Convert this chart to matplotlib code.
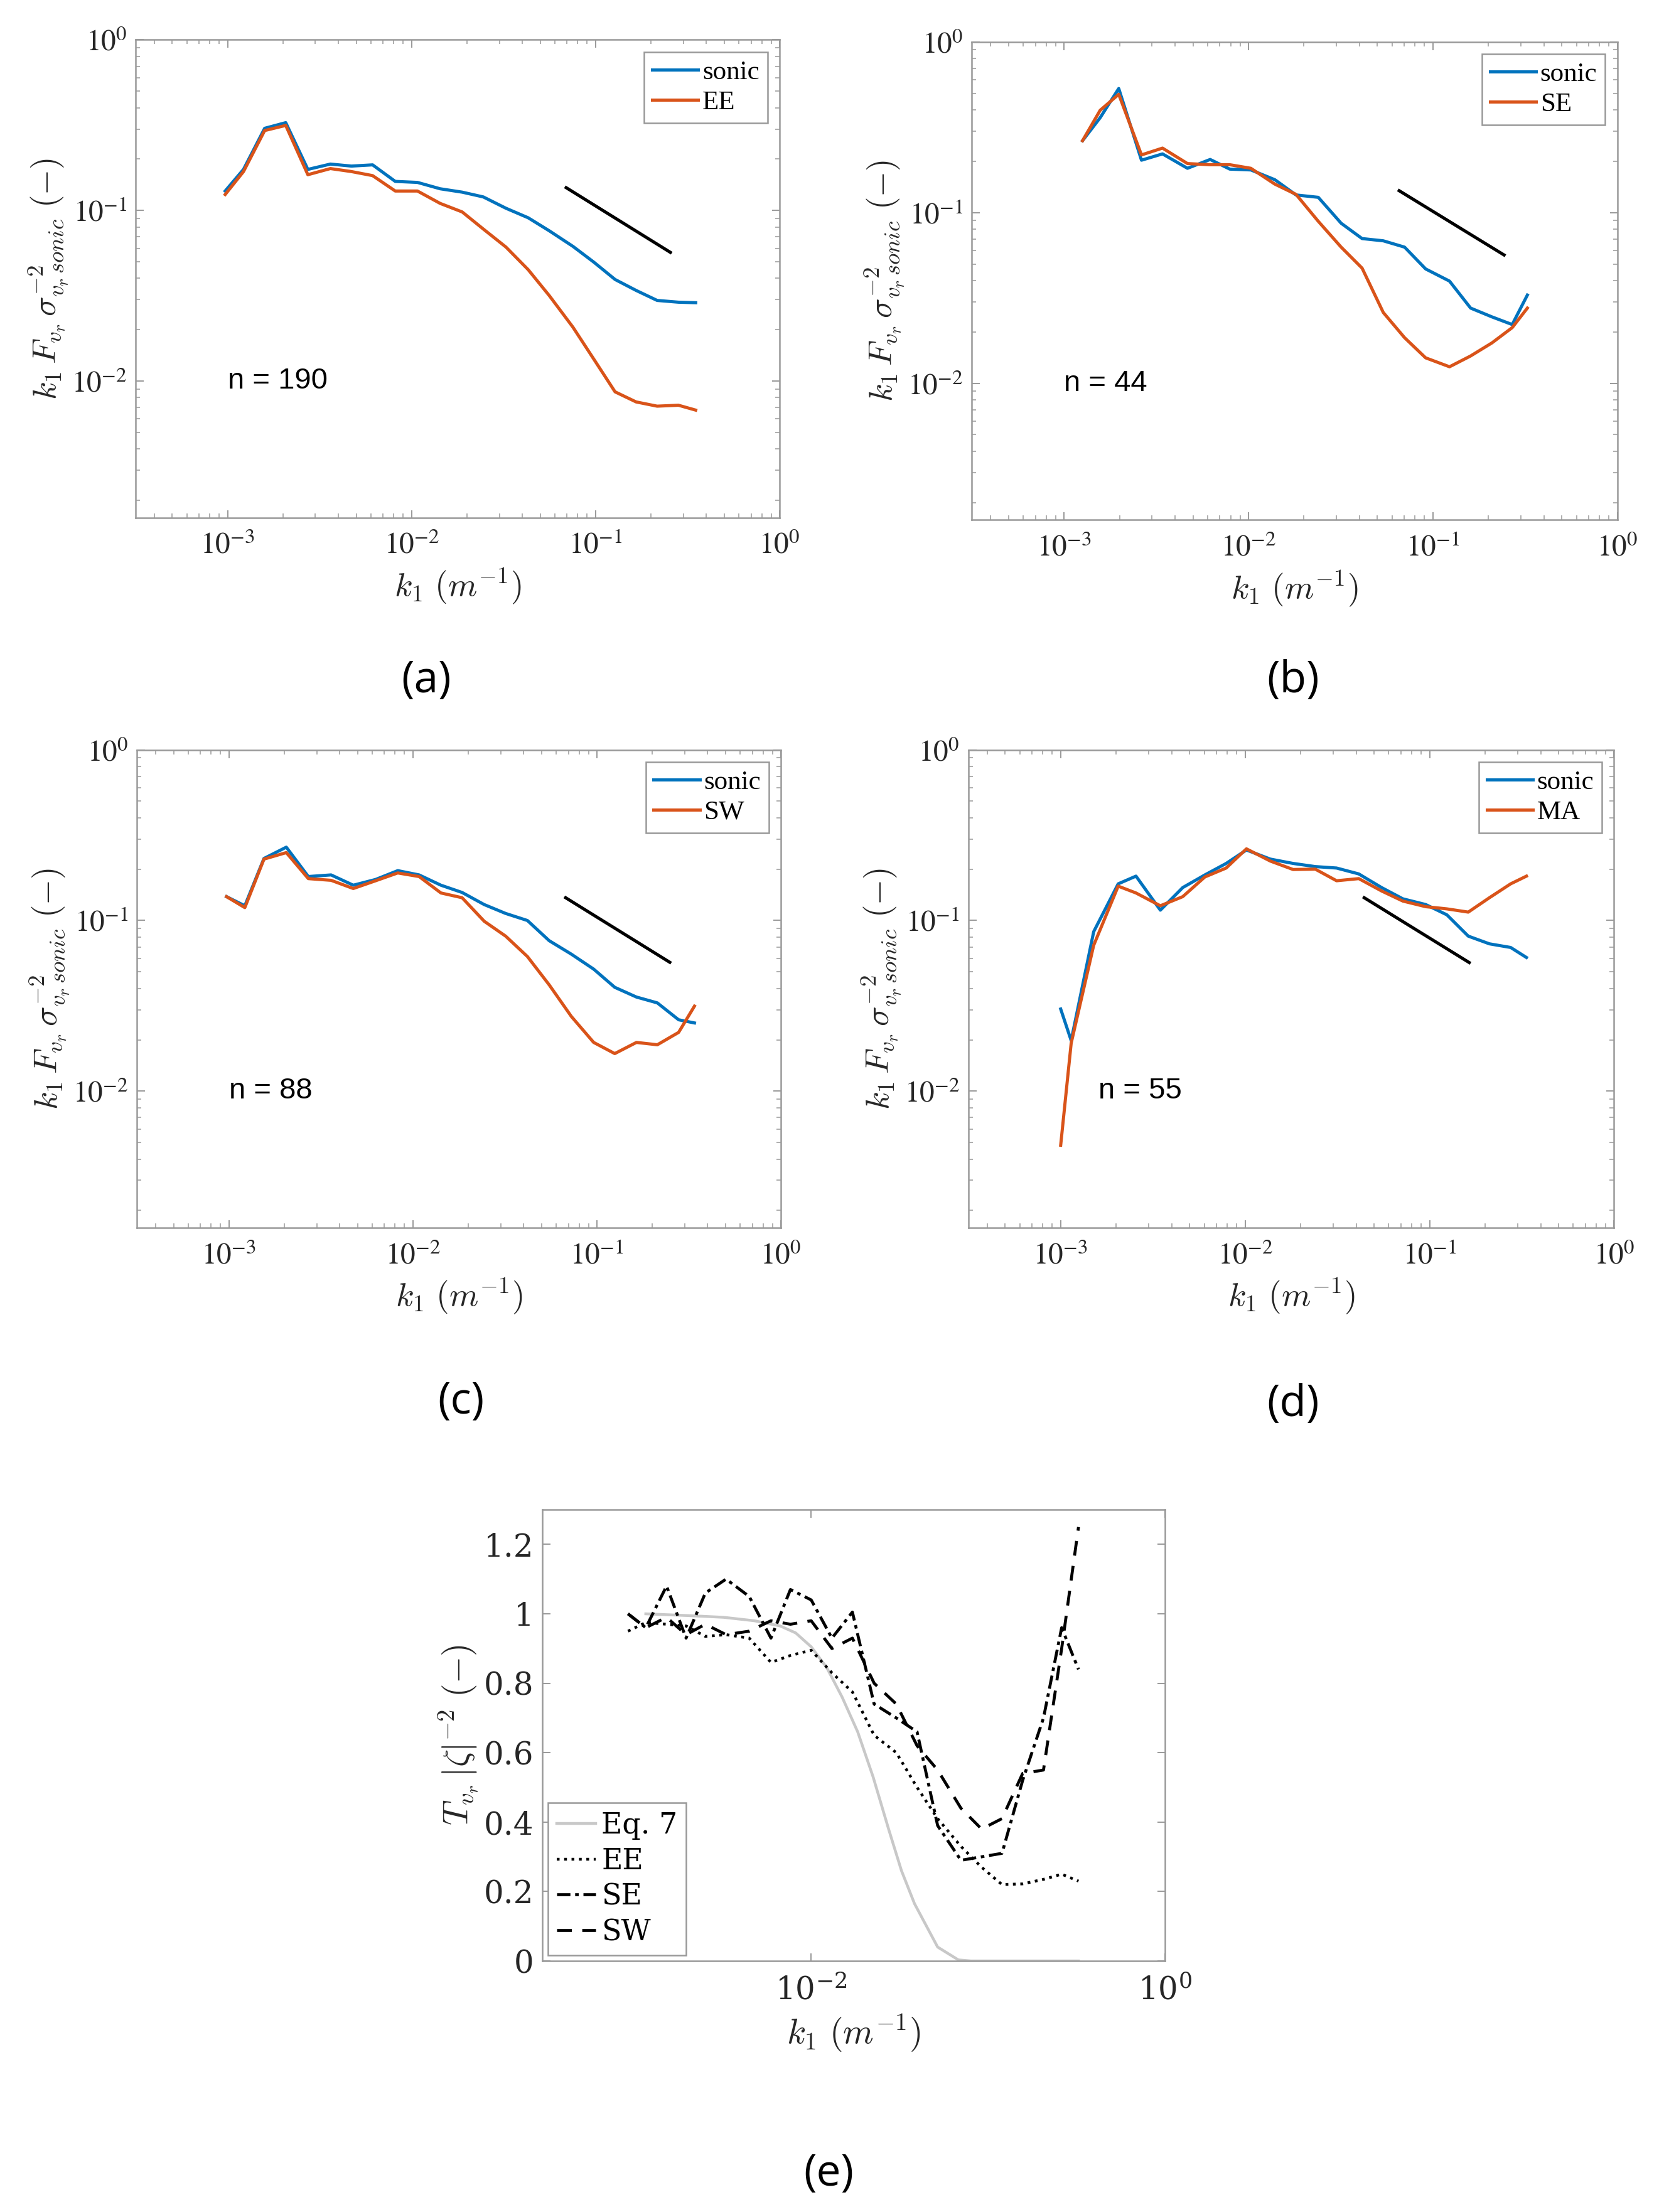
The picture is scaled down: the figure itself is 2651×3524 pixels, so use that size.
import numpy as np
import matplotlib.pyplot as plt
from matplotlib.ticker import NullFormatter, LogLocator, NullLocator

plt.rcParams['mathtext.fontset'] = 'cm'

# ---- panel (a): sonic vs EE ----
k1_a = [0.00097, 0.00122, 0.00159, 0.00207, 0.00273, 0.00362, 0.00471, 0.00614,
        0.00815, 0.01076, 0.01429, 0.01884, 0.02454, 0.03258, 0.0430, 0.0560,
        0.0753, 0.098, 0.1276, 0.166, 0.216, 0.282, 0.350]
sonic_a = [0.130, 0.174, 0.303, 0.327, 0.174, 0.187, 0.182, 0.185, 0.148, 0.146,
           0.134, 0.128, 0.120, 0.103, 0.0906, 0.076, 0.0616, 0.0497, 0.0394,
           0.034, 0.0297, 0.029, 0.0288]
ee_a = [0.124, 0.169, 0.294, 0.315, 0.162, 0.176, 0.169, 0.160, 0.130, 0.130,
        0.110, 0.098, 0.0778, 0.061, 0.045, 0.0317, 0.0207, 0.0134, 0.00865,
        0.00755, 0.00713, 0.00722, 0.00676]

# ---- panel (b): sonic vs SE ----
k1_b = [0.00126, 0.00157, 0.00198, 0.00263, 0.00342, 0.00467, 0.00620, 0.00792,
        0.0103, 0.0139, 0.0181, 0.0239, 0.0318, 0.0413, 0.0538, 0.0702, 0.0913,
        0.123, 0.160, 0.209, 0.269, 0.325]
sonic_b = [0.264, 0.360, 0.534, 0.203, 0.221, 0.182, 0.205, 0.180, 0.178, 0.156,
           0.127, 0.123, 0.0867, 0.0705, 0.0684, 0.0628, 0.0468, 0.0397, 0.0276,
           0.0245, 0.0221, 0.0329]
se_b = [0.264, 0.398, 0.494, 0.218, 0.239, 0.194, 0.191, 0.191, 0.182, 0.147,
        0.128, 0.089, 0.0628, 0.0473, 0.026, 0.0185, 0.0141, 0.0125, 0.01446,
        0.01726, 0.0212, 0.0276]

# ---- panel (c): sonic vs SW ----
k1_c = [0.00097, 0.00122, 0.00155, 0.00205, 0.00270, 0.00359, 0.00474, 0.00627,
        0.00827, 0.0108, 0.0142, 0.0185, 0.0244, 0.0319, 0.0419, 0.0550, 0.0726,
        0.0960, 0.125, 0.164, 0.213, 0.278, 0.339]
sonic_c = [0.138, 0.122, 0.231, 0.269, 0.181, 0.185, 0.161, 0.174, 0.196, 0.185,
           0.161, 0.146, 0.124, 0.110, 0.100, 0.0762, 0.0635, 0.0519, 0.0406,
           0.0356, 0.0329, 0.0262, 0.0251]
sw_c = [0.138, 0.119, 0.229, 0.250, 0.176, 0.172, 0.154, 0.171, 0.190, 0.181,
        0.145, 0.136, 0.099, 0.081, 0.0615, 0.042, 0.0274, 0.0193, 0.0166,
        0.0193, 0.0187, 0.0221, 0.0315]

# ---- panel (d): sonic vs MA ----
k1_d = [0.00100, 0.00114, 0.00151, 0.00205, 0.00256, 0.00347, 0.00459, 0.00605,
        0.00789, 0.01016, 0.0137, 0.0182, 0.0240, 0.0313, 0.0413, 0.0549, 0.0716,
        0.0953, 0.124, 0.162, 0.211, 0.275, 0.335]
sonic_d = [0.0303, 0.0198, 0.086, 0.164, 0.182, 0.115, 0.156, 0.185, 0.216, 0.259,
           0.229, 0.216, 0.207, 0.203, 0.1875, 0.156, 0.134, 0.124, 0.108, 0.081,
           0.073, 0.0695, 0.0607]
ma_d = [0.00482, 0.0191, 0.0716, 0.159, 0.145, 0.122, 0.138, 0.180, 0.203, 0.263,
        0.223, 0.199, 0.200, 0.171, 0.176, 0.149, 0.130, 0.1205, 0.117, 0.112,
        0.136, 0.164, 0.182]

# -2/3 reference segments
slope_x = {'a': [0.0692, 0.255], 'b': [0.0656, 0.243], 'c': [0.0676, 0.249], 'd': [0.0442, 0.164]}
slope_y = {'a': [0.136, 0.0568], 'b': [0.1345, 0.0565], 'c': [0.136, 0.0569], 'd': [0.136, 0.0567]}

# ---- panel (e): transfer functions ----
k1_e = [0.00092, 0.00116, 0.00152, 0.00196, 0.00252, 0.00330, 0.00446, 0.00592,
        0.00763, 0.0100, 0.0131, 0.0171, 0.0227, 0.0303, 0.0397, 0.0519, 0.0703,
        0.092, 0.120, 0.157, 0.206, 0.261, 0.325]
t_ee = [0.95, 0.975, 0.97, 0.965, 0.935, 0.94, 0.93, 0.86, 0.88, 0.895, 0.83, 0.775,
        0.65, 0.60, 0.50, 0.41, 0.33, 0.27, 0.22, 0.222, 0.235, 0.25, 0.23]
t_se = [1.0, 0.96, 1.08, 0.93, 1.06, 1.10, 1.05, 0.93, 1.07, 1.04, 0.93, 1.005,
        0.74, 0.70, 0.66, 0.39, 0.29, 0.30, 0.31, 0.52, 0.70, 0.96, 0.84]
t_sw = [1.0, 0.96, 0.99, 0.94, 0.97, 0.94, 0.95, 0.98, 0.97, 0.98, 0.90, 0.93,
        0.80, 0.74, 0.62, 0.55, 0.44, 0.38, 0.41, 0.54, 0.55, 0.90, 1.25]
k1_eq7 = [0.00116, 0.0020, 0.00319, 0.00477, 0.00668, 0.00817, 0.0100, 0.01225,
          0.01496, 0.01832, 0.0224, 0.0274, 0.0324, 0.0384, 0.0519, 0.068, 0.080, 0.325]
t_eq7 = [1.0, 0.995, 0.99, 0.98, 0.965, 0.945, 0.905, 0.845, 0.76, 0.66, 0.53, 0.38,
         0.26, 0.165, 0.04, 0.003, 0.0, 0.0]

BLUE = '#0072BD'
ORANGE = '#D95319'
SPINE = '#999999'
TXT = '#262626'

fig = plt.figure(figsize=(26.51, 35.24), dpi=100)


def style_axes(ax):
    for s in ax.spines.values():
        s.set_color(SPINE)
        s.set_linewidth(1.8)
    ax.tick_params(which='both', direction='in', top=True, right=True, colors=SPINE,
                   labelcolor=TXT)
    ax.tick_params(which='major', length=9, width=1.4)
    ax.tick_params(which='minor', length=5, width=1.1)


def spectrum_panel(rect, k1, sonic, other, name, key, n_label, n_x):
    ax = fig.add_axes(rect)
    ax.set_xscale('log')
    ax.set_yscale('log')
    ax.plot(k1, sonic, color=BLUE, lw=3.6, label='sonic')
    ax.plot(k1, other, color=ORANGE, lw=3.6, label=name)
    ax.plot(slope_x[key], slope_y[key], color='k', lw=3.6)
    ax.set_xlim(10 ** -3.5, 1)
    ax.set_ylim(10 ** -2.8, 1)
    style_axes(ax)
    ax.set_xticks([1e-3, 1e-2, 1e-1, 1],
                  [r'$10^{-3}$', r'$10^{-2}$', r'$10^{-1}$', r'$10^{0}$'])
    ax.set_yticks([1e-2, 1e-1, 1], [r'$10^{-2}$', r'$10^{-1}$', r'$10^{0}$'])
    ax.xaxis.set_minor_locator(LogLocator(base=10, subs=np.arange(2, 10)))
    ax.yaxis.set_minor_locator(LogLocator(base=10, subs=np.arange(2, 10)))
    ax.xaxis.set_minor_formatter(NullFormatter())
    ax.yaxis.set_minor_formatter(NullFormatter())
    ax.tick_params(axis='x', which='major', pad=16)
    ax.tick_params(axis='y', which='major', pad=10)
    for lbl in ax.get_xticklabels() + ax.get_yticklabels():
        lbl.set_fontsize(34)
        lbl.set_math_fontfamily('stix')
    ax.set_xlabel(r'$k_1\ (m^{-1})$', fontsize=38, color=TXT, labelpad=8)
    ax.set_ylabel(r'$k_1\,F_{v_r}\,\sigma^{-2}_{v_r\,sonic}\ (-)$', fontsize=38,
                  color=TXT, labelpad=2)
    ax.text(n_x, 0.01, n_label, fontsize=34, family='Liberation Sans',
            va='center', ha='left', color='k')
    leg = ax.legend(loc='upper right', handlelength=1.7,
                    handletextpad=0.15, borderpad=0.3, labelspacing=0.2,
                    borderaxespad=0.45, fancybox=False, framealpha=1,
                    prop={'family': 'Liberation Serif', 'size': 31})
    leg.get_frame().set_edgecolor(SPINE)
    leg.get_frame().set_linewidth(1.8)
    return ax


spectrum_panel([0.0815, 0.766, 0.387, 0.216], k1_a, sonic_a, ee_a, 'EE', 'a', 'n = 190', 1.0e-3)
spectrum_panel([0.584, 0.765, 0.388, 0.216], k1_b, sonic_b, se_b, 'SE', 'b', 'n = 44', 1.0e-3)
spectrum_panel([0.0823, 0.445, 0.387, 0.216], k1_c, sonic_c, sw_c, 'SW', 'c', 'n = 88', 1.0e-3)
spectrum_panel([0.582, 0.445, 0.388, 0.216], k1_d, sonic_d, ma_d, 'MA', 'd', 'n = 55', 1.6e-3)

# panel (e)
ax = fig.add_axes([0.326, 0.1135, 0.374, 0.204])
ax.set_xscale('log')
ax.plot(k1_eq7, t_eq7, color='#c8c8c8', lw=3.2, label='Eq. 7')
ax.plot(k1_e, t_ee, color='k', lw=3.2, ls=':', label='EE')
ax.plot(k1_e, t_se, color='k', lw=3.4, ls=(0, (4.5, 1.6, 1.2, 1.6)), label='SE')
ax.plot(k1_e, t_sw, color='k', lw=3.4, ls=(0, (5, 3.5)), label='SW')
ax.set_xlim(10 ** -3.52, 1)
ax.set_ylim(0, 1.3)
style_axes(ax)
ax.set_xticks([1e-2, 1], [r'$10^{-2}$', r'$10^{0}$'])
ax.xaxis.set_minor_locator(NullLocator())
ax.set_yticks([0, 0.2, 0.4, 0.6, 0.8, 1.0, 1.2], ['0', '0.2', '0.4', '0.6', '0.8', '1', '1.2'])
ax.tick_params(axis='x', pad=16)
ax.tick_params(axis='y', pad=10)
for lbl in ax.get_xticklabels():
    lbl.set_fontsize(36)
    lbl.set_math_fontfamily('dejavuserif')
for lbl in ax.get_yticklabels():
    lbl.set_fontsize(36)
    lbl.set_family('DejaVu Serif')
ax.set_xlabel(r'$k_1\ (m^{-1})$', fontsize=40, color=TXT, labelpad=8)
ax.set_ylabel(r'$T_{v_r}\,|\zeta|^{-2}\ (-)$', fontsize=40, color=TXT, labelpad=4)
leg = ax.legend(loc='lower left', handlelength=1.35, handletextpad=0.2,
                borderpad=0.3, labelspacing=0.25, borderaxespad=0.2,
                fancybox=False, framealpha=1, prop={'family': 'DejaVu Serif', 'size': 33})
leg.get_frame().set_edgecolor(SPINE)
leg.get_frame().set_linewidth(1.8)

# panel letters
for lab, x, y in [('(a)', 0.256, 0.692), ('(b)', 0.777, 0.692), ('(c)', 0.277, 0.366),
                  ('(d)', 0.777, 0.365), ('(e)', 0.498, 0.017)]:
    fig.text(x, y, lab, fontsize=50, family='Open Sans', ha='center', va='center')

fig.savefig('out.png', dpi=100, facecolor='white')
